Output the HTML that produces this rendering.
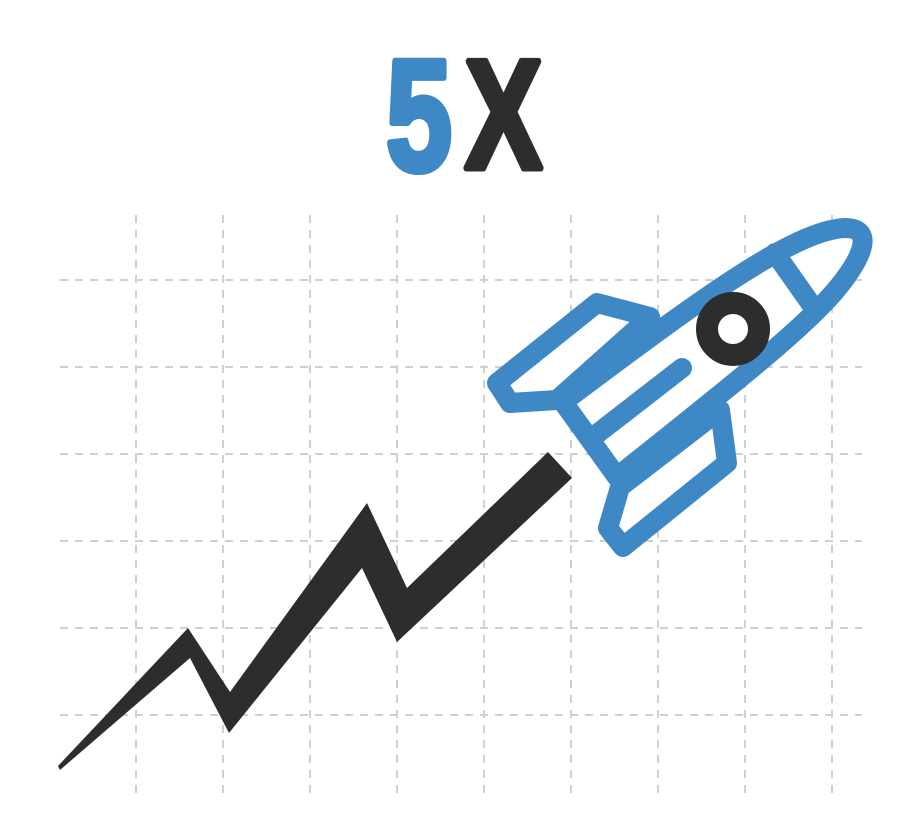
<!DOCTYPE html>
<html><head><meta charset="utf-8"><style>html,body{margin:0;padding:0;background:#fff}svg{display:block}</style></head>
<body>
<svg width="921" height="833" viewBox="0 0 921 833" xmlns="http://www.w3.org/2000/svg">
<g stroke="#d0d0d0" stroke-width="2" stroke-dasharray="8,7">
<line x1="136" y1="215" x2="136" y2="795"/><line x1="223" y1="215" x2="223" y2="795"/><line x1="310" y1="215" x2="310" y2="795"/><line x1="397" y1="215" x2="397" y2="795"/><line x1="484" y1="215" x2="484" y2="795"/><line x1="571" y1="215" x2="571" y2="795"/><line x1="658" y1="215" x2="658" y2="795"/><line x1="745" y1="215" x2="745" y2="795"/><line x1="832" y1="215" x2="832" y2="795"/>
<line x1="60" y1="280" x2="862" y2="280"/><line x1="60" y1="367" x2="862" y2="367"/><line x1="60" y1="454" x2="862" y2="454"/><line x1="60" y1="541" x2="862" y2="541"/><line x1="60" y1="628" x2="862" y2="628"/><line x1="60" y1="715" x2="862" y2="715"/>
</g>
<text x="386" y="170" font-family="Liberation Sans, sans-serif" font-weight="bold" font-size="158" fill="#3f88c6" stroke="#3f88c6" stroke-width="7" stroke-linejoin="round" textLength="66" lengthAdjust="spacingAndGlyphs">5</text>
<text x="465" y="168" font-family="Liberation Sans, sans-serif" font-weight="bold" font-size="155" fill="#2d2d2d" stroke="#2d2d2d" stroke-width="7" stroke-linejoin="round" textLength="77" lengthAdjust="spacingAndGlyphs">X</text>
<polygon fill="#2d2d2d" points="58,766 188,628 230,692 367,503 407,588 548,452 572,478 397,642 362,568 229,733 190,658 60,770"/>
<g fill="#fff" stroke="#3f88c6" stroke-width="20" stroke-linejoin="round" stroke-linecap="round">
<polygon points="650,317 597,303 497,383 510,403 557,400"/>
<polygon points="720,410 727,463 623,547 608,528 620,487"/>
<path d="M563,402 C 680,315 790,230 845,228 C 872,228 866,252 840,285 C 805,330 700,410 617,477 Z"/>
<line x1="775" y1="253" x2="813" y2="307"/>
<line x1="593" y1="437" x2="682" y2="368"/>
</g>
<circle cx="733" cy="329" r="26" fill="#fff" stroke="#2d2d2d" stroke-width="22"/>
</svg>
</body></html>
